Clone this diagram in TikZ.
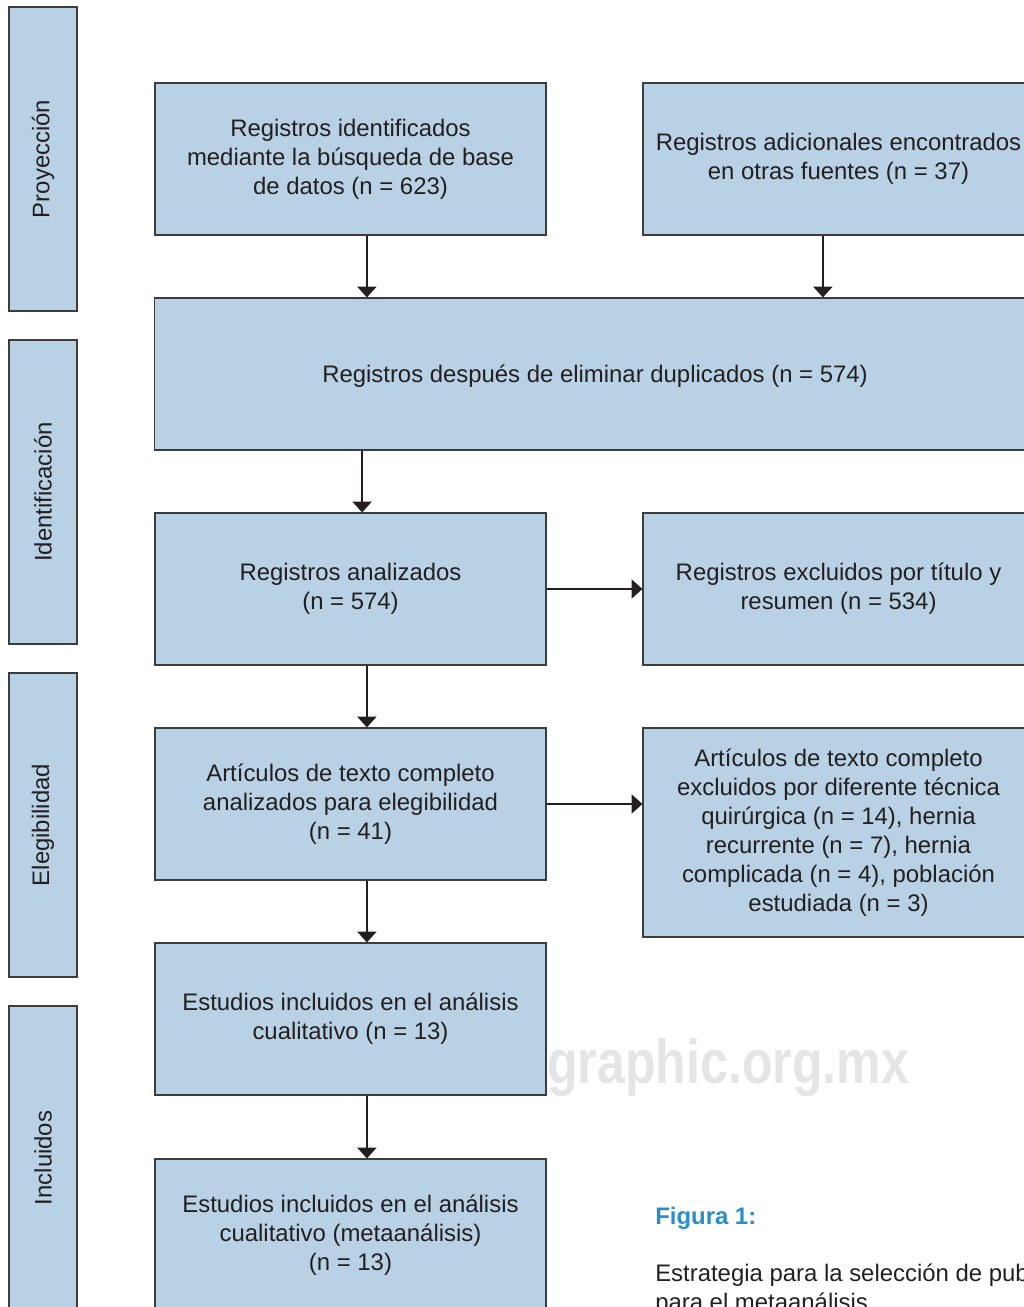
\documentclass[tikz,border=0pt]{standalone}
\usepackage{fontspec}
\setmainfont{Liberation Sans}
\usetikzlibrary{shapes, arrows.meta}
\definecolor{boxblue}{RGB}{185,209,229}
\definecolor{edgegray}{RGB}{60,60,60}
\definecolor{inkgray}{RGB}{35,31,32}
\definecolor{capblue}{RGB}{42,141,197}
\definecolor{wmgray}{RGB}{228,229,231}

\begin{document}
\begin{tikzpicture}[
  x=0.025cm, y=-0.025cm, % one unit is one pixel of the scanned figure
  every node/.style={font=\fontsize{17pt}{20.6pt}\selectfont, text=inkgray},
  flowbox/.style={rectangle, draw=edgegray, line width=0.8pt, fill=boxblue, align=center,
    minimum width=9.775cm, minimum height=3.8cm, inner sep=2pt,
    execute at begin node={\rule{0pt}{0.905em}},
    execute at end node={\rule[-0.212em]{0pt}{0.212em}}},
  stagebox/.style={rectangle, draw=edgegray, line width=0.8pt, fill=boxblue, rotate=90,
    minimum width=7.6cm, minimum height=1.7cm},
  flowarrow/.style={draw=inkgray, line width=1.1pt, -{Triangle[width=0.48cm, length=0.27cm]}},
  ]

  \useasboundingbox (0,0) rectangle (1024,1307);
  \clip (0,0) rectangle (1024,1307);

  % stages on the left
  \node[stagebox] (proy) at (43,159) {Proyección};
  \node[stagebox] (iden) at (43,492) {Identificación};
  \node[stagebox] (eleg) at (43,825) {Elegibilidad};
  \node[stagebox] (incl) at (43,1158) {Incluidos};

  % watermark, partly hidden by the box
  \node[anchor=base west, inner sep=0pt, text=wmgray,
    font=\fontsize{44pt}{50pt}\selectfont\bfseries] (mark) at (547,1083) {\scalebox{0.81}[1]{graphic.org.mx}};

  \node[flowbox] (ident) at (350.5,159) {Registros identificados\\mediante la búsqueda de base\\de datos (n = 623)};
  \node[flowbox] (other) at (838.5,159) {Registros adicionales encontrados\\en otras fuentes (n = 37)};
  \node[flowbox, minimum width=22cm] (dup) at (595,374) {Registros después de eliminar duplicados (n = 574)};
  \node[flowbox] (screen) at (350.5,589) {Registros analizados\\(n = 574)};
  \node[flowbox] (excl) at (838.5,589) {Registros excluidos por título y\\resumen (n = 534)};
  \node[flowbox] (full) at (350.5,804) {Artículos de texto completo\\analizados para elegibilidad\\(n = 41)};
  \node[flowbox, minimum height=5.225cm] (fullex) at (838.5,832.5) {Artículos de texto completo\\excluidos por diferente técnica\\quirúrgica (n = 14), hernia\\recurrente (n = 7), hernia\\complicada (n = 4), población\\estudiada (n = 3)};
  \node[flowbox] (qual) at (350.5,1019) {Estudios incluidos en el análisis\\cualitativo (n = 13)};
  \node[flowbox] (meta) at (350.5,1235) {Estudios incluidos en el análisis\\cualitativo (metaanálisis)\\(n = 13)};

  \draw[flowarrow] ([xshift=0.41cm]ident.south) -- ([xshift=0.41cm]ident.south |- dup.north);
  \draw[flowarrow] ([xshift=-0.39cm]other.south) -- ([xshift=-0.39cm]other.south |- dup.north);
  \draw[flowarrow] ([xshift=0.29cm]screen.north |- dup.south) -- ([xshift=0.29cm]screen.north);
  \draw[flowarrow] (screen.east) -- (excl.west);
  \draw[flowarrow] ([xshift=0.41cm]screen.south) -- ([xshift=0.41cm]full.north);
  \draw[flowarrow] (full.east) -- (full.east -| fullex.west);
  \draw[flowarrow] ([xshift=0.41cm]full.south) -- ([xshift=0.41cm]qual.north);
  \draw[flowarrow] ([xshift=0.41cm]qual.south) -- ([xshift=0.41cm]meta.north);

  % caption
  \node[anchor=base west, inner sep=0pt, text=capblue,
    font=\fontsize{17pt}{20.6pt}\selectfont\bfseries] (figlabel) at (655,1224) {Figura 1:};
  \node[anchor=base west, inner sep=0pt, align=left] (figtext) at (655,1310)
    {Estrategia para la selección de publicaciones\\para el metaanálisis};
\end{tikzpicture}
\end{document}
